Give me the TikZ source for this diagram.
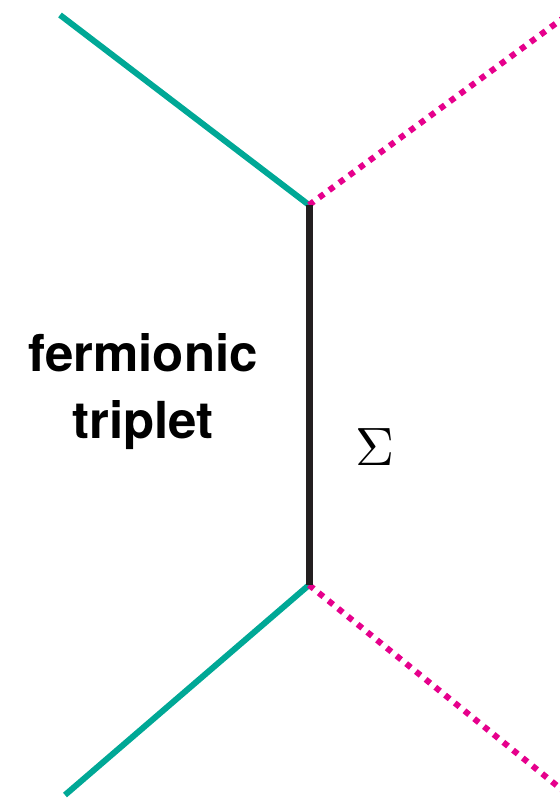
\documentclass[tikz,border=0pt]{standalone}
\usepackage{fontspec}
\setsansfont{TeX Gyre Heros}
\usepackage{amsmath}
\usepackage{graphicx}
\definecolor{teal1}{HTML}{00A896}
\definecolor{pink1}{HTML}{E6008C}
\definecolor{dark1}{HTML}{231F20}

\begin{document}
\begin{tikzpicture}[
  x=1pt, y=-1pt,
  fermion/.style={draw=teal1, line width=6pt},
  scalar/.style={draw=pink1, line width=6pt, dash pattern=on 6pt off 6.5pt},
  heavy/.style={draw=dark1, line width=7pt},
  lbl/.style={align=center, font=\sffamily\bfseries\fontsize{51}{67}\selectfont},
]
\useasboundingbox (0,0) rectangle (559,802);
% vertices
\coordinate (v1) at (309,205);
\coordinate (v2) at (309,585);
% external legs
\coordinate (l1) at (60,15);
\coordinate (l2) at (65,795);
\coordinate (h1) at (566,16);
\coordinate (h2) at (566,793);

\draw[fermion] (l1) -- (v1);
\draw[fermion] (l2) -- (v2);
\draw[scalar] (v1) -- (h1);
\draw[scalar] (v2) -- (h2);
\draw[heavy] (v1) -- (v2);

\node[lbl] (name) at (143,392) {fermionic\\triplet};
\node (sig) at (375,447) {\scalebox{5.4}{$\Sigma$}};
\end{tikzpicture}
\end{document}
